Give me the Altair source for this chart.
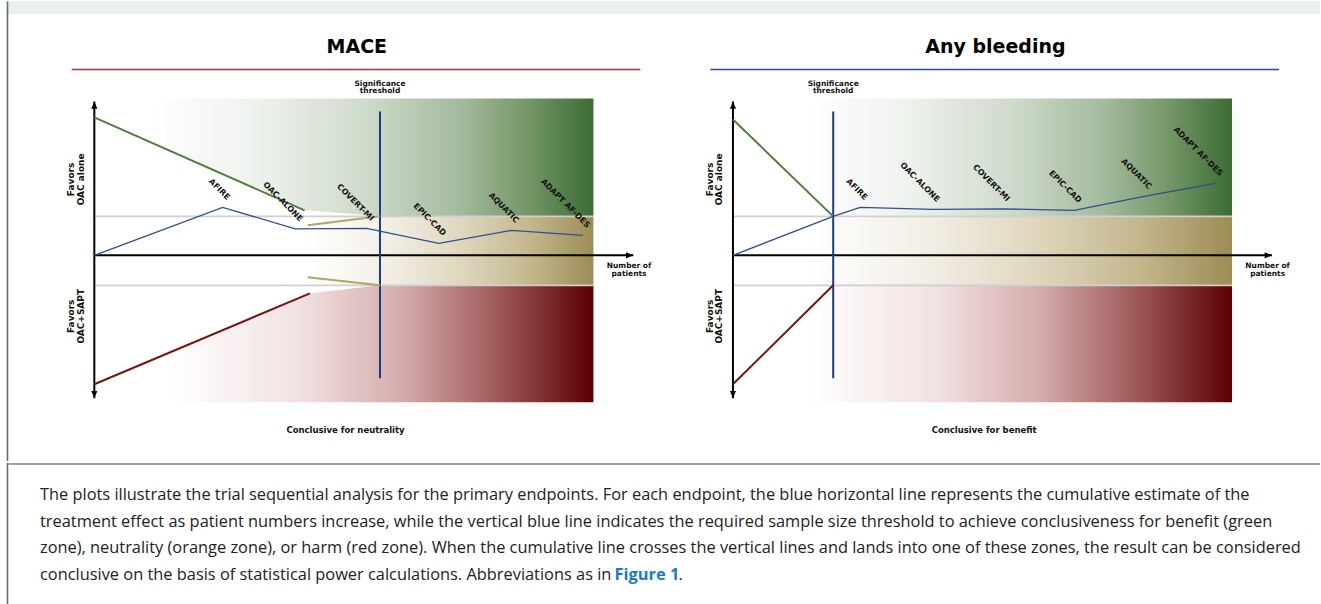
import altair as alt
import pandas as pd

# Trials in the order in which they enter the cumulative (sequential) analysis
TRIALS = ["AFIRE", "OAC-ALONE", "COVERT-MI", "EPIC-CAD", "AQUATIC", "ADAPT AF-DES"]

# n = accrued number of patients (arbitrary units, the axis runs 0..100)
# z = cumulative Z statistic (arbitrary units, > 0 favours OAC alone)

# ---- MACE ----
MACE_TRIAL_N = [23.8, 37.3, 50.5, 63.9, 77.4, 90.6]
MACE_TRIAL_Z = [4.8, 2.65, 2.7, 1.2, 2.5, 2.0]
MACE_PATH_N = [0.0] + MACE_TRIAL_N
MACE_PATH_Z = [0.0] + MACE_TRIAL_Z
MACE_RIS = 53.0                      # required information size
MACE_BENEFIT_N = [0.0, 39.0]
MACE_BENEFIT_Z = [13.8, 4.5]
MACE_HARM_N = [0.0, 40.0]
MACE_HARM_Z = [-12.9, -3.8]
MACE_FUTILITY_N = [39.6, 53.0]
MACE_FUTILITY_UPPER = [3.0, 3.9]
MACE_FUTILITY_LOWER = [-2.2, -3.0]
MACE_SHADE_START = {"benefit": 10.7, "neutral": 39.6, "harm": 14.2}

# ---- Any bleeding ----
BLEED_TRIAL_N = [23.6, 37.0, 50.0, 63.3, 76.3, 89.5]
BLEED_TRIAL_Z = [4.8, 4.6, 4.65, 4.5, 5.9, 7.2]
BLEED_RIS = 18.6
BLEED_PATH_N = [0.0, 18.6] + BLEED_TRIAL_N
BLEED_PATH_Z = [0.0, 3.9] + BLEED_TRIAL_Z
BLEED_BENEFIT_N = [0.0, 18.6]
BLEED_BENEFIT_Z = [13.6, 3.9]
BLEED_HARM_N = [0.0, 18.6]
BLEED_HARM_Z = [-12.9, -3.0]
BLEED_SHADE_START = {"benefit": 13.8, "neutral": 13.8, "harm": 13.8}

# ---- zone limits shared by both panels ----
ZONE_TOP, ZONE_BOTTOM = 15.7, -14.7
NEUTRAL_UPPER, NEUTRAL_LOWER = 3.9, -3.0
ZONE_END = 92.6
AXIS_N_END = 100.0
AXIS_Z_TOP, AXIS_Z_BOTTOM = 15.4, -14.3
RIS_TOP, RIS_BOTTOM = 14.4, -12.3

CAPTION_LINES = [
    "The plots illustrate the trial sequential analysis for the primary endpoints. For each endpoint, the blue horizontal line represents the cumulative estimate of the",
    "treatment effect as patient numbers increase, while the vertical blue line indicates the required sample size threshold to achieve conclusiveness for benefit (green",
    "zone), neutrality (orange zone), or harm (red zone). When the cumulative line crosses the vertical lines and lands into one of these zones, the result can be considered",
    "conclusive on the basis of statistical power calculations. Abbreviations as in",
]
CAPTION_LINK = "Figure 1"

# ---- styling ----
FONT = "DejaVu Sans"
CAPTION_FONT = "Open Sans"
CAPTION_SIZE = 16.4
BENEFIT_COLOR = "#4f7f3f"
HARM_COLOR = "#7a1212"
FUTILITY_COLOR = "#b3a467"
CUM_COLOR = "#2f4f8f"
RIS_COLOR = "#1d3a84"
GUIDE_GRAY = "#d0d0d0"

GREEN_RAMP = [(0, "#ffffff"), (0.25, "#edf1ec"), (0.5, "#cbd8c7"), (0.7, "#a3ba9c"), (0.85, "#759768"), (1, "#3c6b35")]
TAN_RAMP = [(0, "#ffffff"), (0.3, "#f1ede3"), (0.55, "#ded5bb"), (0.78, "#c3b78d"), (1, "#9c8c55")]
RED_RAMP = [(0, "#ffffff"), (0.3, "#f2e2e2"), (0.55, "#d4abab"), (0.78, "#9c5757"), (1, "#5c0000")]

PX_PER_N = 5.394
PX_PER_Z = 10.0
Z0_PX = 254.3
PANEL_H = 460

UP_ARROW = "M0,0L-0.5,1.2L0.5,1.2Z"
DOWN_ARROW = "M0,0L-0.5,-1.2L0.5,-1.2Z"
RIGHT_ARROW = "M0,0L-1.2,-0.5L-1.2,0.5Z"


def gradient(start_frac, ramp):
    stops = [alt.GradientStop(offset=0, color="#ffffff")]
    if start_frac > 0:
        stops.append(alt.GradientStop(offset=start_frac, color="#ffffff"))
    for f, c in ramp[1:]:
        stops.append(alt.GradientStop(offset=start_frac + f * (1 - start_frac), color=c))
    return alt.Gradient(gradient="linear", stops=stops, x1=0, x2=1, y1=0, y2=0)


def panel(title, rule_color, verdict, trial_n, trial_z, path_n, path_z, ris,
          benefit, harm, futility, shade, width, axis_px, border):
    xs = alt.Scale(domain=[-axis_px / PX_PER_N, (width - axis_px) / PX_PER_N], nice=False, zero=False)
    ys = alt.Scale(domain=[(Z0_PX - PANEL_H) / PX_PER_Z, Z0_PX / PX_PER_Z], nice=False, zero=False)

    def X(f):
        return alt.X(f, type="quantitative", scale=xs, axis=None)

    def Y(f):
        return alt.Y(f, type="quantitative", scale=ys, axis=None)

    layers = []

    # header band and frame
    layers.append(alt.Chart(pd.DataFrame({"k": [0]})).mark_rect(color="#e8f1f0").encode(
        x=alt.value(8 if border else 0), x2=alt.value(width), y=alt.value(0), y2=alt.value(13)))
    if border:
        layers.append(alt.Chart(pd.DataFrame({"k": [0]})).mark_rule(color="#6b6b6b", strokeWidth=1.6).encode(
            x=alt.value(7.5), y=alt.value(0), y2=alt.value(PANEL_H)))

    # benefit zone
    b_n, b_z = list(benefit[0]), list(benefit[1])
    if b_n[-1] != ris:
        b_n.append(ris); b_z.append(NEUTRAL_UPPER)
    b_n.append(ZONE_END); b_z.append(NEUTRAL_UPPER)
    green = pd.DataFrame({"n": b_n, "top": [ZONE_TOP] * len(b_n), "bottom": b_z})
    layers.append(alt.Chart(green).mark_area(
        color=gradient(shade["benefit"] / ZONE_END, GREEN_RAMP), opacity=1).encode(
        x=X("n"), y=Y("top"), y2="bottom"))

    # harm zone
    h_n, h_z = list(harm[0]), list(harm[1])
    if h_n[-1] != ris:
        h_n.append(ris); h_z.append(NEUTRAL_LOWER)
    h_n.append(ZONE_END); h_z.append(NEUTRAL_LOWER)
    red = pd.DataFrame({"n": h_n, "top": h_z, "bottom": [ZONE_BOTTOM] * len(h_n)})
    layers.append(alt.Chart(red).mark_area(
        color=gradient(shade["harm"] / ZONE_END, RED_RAMP), opacity=1).encode(
        x=X("n"), y=Y("top"), y2="bottom"))

    # neutrality zone
    tan = pd.DataFrame({"n": [shade["neutral"], ZONE_END], "top": [NEUTRAL_UPPER] * 2,
                        "bottom": [NEUTRAL_LOWER] * 2})
    layers.append(alt.Chart(tan).mark_area(color=gradient(0, TAN_RAMP), opacity=1).encode(
        x=X("n"), y=Y("top"), y2="bottom"))

    # grey guides at the neutrality limits
    guides = pd.DataFrame({"n": [0.0, 0.0], "n2": [ZONE_END] * 2, "z": [NEUTRAL_UPPER, NEUTRAL_LOWER]})
    layers.append(alt.Chart(guides).mark_rule(color=GUIDE_GRAY, strokeWidth=1.8).encode(
        x=X("n"), x2="n2", y=Y("z")))

    # axes with arrowheads
    layers.append(alt.Chart(pd.DataFrame({"n": [0.0], "n2": [AXIS_N_END], "z": [0.0]})).mark_rule(
        color="black", strokeWidth=2).encode(x=X("n"), x2="n2", y=Y("z")))
    layers.append(alt.Chart(pd.DataFrame({"n": [0.0], "z": [AXIS_Z_BOTTOM], "z2": [AXIS_Z_TOP]})).mark_rule(
        color="black", strokeWidth=2).encode(x=X("n"), y=Y("z"), y2="z2"))
    for shape, n, z in [(UP_ARROW, 0.0, AXIS_Z_TOP), (DOWN_ARROW, 0.0, AXIS_Z_BOTTOM),
                        (RIGHT_ARROW, AXIS_N_END, 0.0)]:
        layers.append(alt.Chart(pd.DataFrame({"n": [n], "z": [z]})).mark_point(
            shape=shape, filled=True, size=150, color="black", opacity=1, strokeWidth=0).encode(
            x=X("n"), y=Y("z")))

    # required-information-size threshold
    layers.append(alt.Chart(pd.DataFrame({"n": [ris], "z": [RIS_BOTTOM], "z2": [RIS_TOP]})).mark_rule(
        color=RIS_COLOR, strokeWidth=2).encode(x=X("n"), y=Y("z"), y2="z2"))

    # monitoring boundaries
    layers.append(alt.Chart(pd.DataFrame({"n": benefit[0], "z": benefit[1]})).mark_line(
        color=BENEFIT_COLOR, strokeWidth=2).encode(x=X("n"), y=Y("z")))
    layers.append(alt.Chart(pd.DataFrame({"n": harm[0], "z": harm[1]})).mark_line(
        color=HARM_COLOR, strokeWidth=2).encode(x=X("n"), y=Y("z")))
    if futility is not None:
        for zz in (futility[1], futility[2]):
            layers.append(alt.Chart(pd.DataFrame({"n": futility[0], "z": zz})).mark_line(
                color=FUTILITY_COLOR, strokeWidth=2).encode(x=X("n"), y=Y("z")))

    # cumulative Z curve
    layers.append(alt.Chart(pd.DataFrame({"n": path_n, "z": path_z})).mark_line(
        color=CUM_COLOR, strokeWidth=1.4).encode(x=X("n"), y=Y("z")))

    # trial labels
    tl = pd.DataFrame({"n": trial_n, "z": trial_z, "trial": TRIALS})
    layers.append(alt.Chart(tl).mark_text(
        angle=45, align="right", baseline="bottom", dx=-2, dy=-6, font=FONT,
        fontSize=8, fontWeight="bold", color="#111").encode(x=X("n"), y=Y("z"), text="trial"))

    # titles and annotations
    layers.append(alt.Chart(pd.DataFrame({"n": [48.7], "z": [20.8], "t": [title]})).mark_text(
        font=FONT, fontSize=19, fontWeight="bold", color="black", baseline="middle").encode(
        x=X("n"), y=Y("z"), text="t"))
    layers.append(alt.Chart(pd.DataFrame({"n": [-4.2], "n2": [101.3], "z": [18.6]})).mark_rule(
        color=rule_color, strokeWidth=1.3).encode(x=X("n"), x2="n2", y=Y("z")))
    layers.append(alt.Chart(pd.DataFrame({"n": [ris], "z": [16.7], "t": ["Significance\nthreshold"]})).mark_text(
        font=FONT, fontSize=7.5, fontWeight="bold", lineBreak="\n", lineHeight=6.5, baseline="bottom",
        color="#111").encode(x=X("n"), y=Y("z"), text="t"))
    layers.append(alt.Chart(pd.DataFrame({"n": [99.2], "z": [-0.65], "t": ["Number of\npatients"]})).mark_text(
        font=FONT, fontSize=7.5, fontWeight="bold", lineBreak="\n", lineHeight=8, baseline="top",
        color="#111").encode(x=X("n"), y=Y("z"), text="t"))
    side = pd.DataFrame({"n": [-4.3, -4.3], "z": [7.6, -6.1],
                         "t": ["Favors\nOAC alone", "Favors\nOAC+SAPT"]})
    layers.append(alt.Chart(side).mark_text(
        font=FONT, fontSize=9, fontWeight="bold", lineBreak="\n", lineHeight=9.5, angle=270,
        baseline="middle", align="center", color="#111").encode(x=X("n"), y=Y("z"), text="t"))
    layers.append(alt.Chart(pd.DataFrame({"n": [46.6], "z": [-17.5], "t": [verdict]})).mark_text(
        font=FONT, fontSize=8.5, fontWeight="bold", baseline="middle", color="#111").encode(
        x=X("n"), y=Y("z"), text="t"))

    return alt.layer(*layers).properties(width=width, height=PANEL_H)


left = panel("MACE", "#a33b3b", "Conclusive for neutrality",
             MACE_TRIAL_N, MACE_TRIAL_Z, MACE_PATH_N, MACE_PATH_Z, MACE_RIS,
             (MACE_BENEFIT_N, MACE_BENEFIT_Z), (MACE_HARM_N, MACE_HARM_Z),
             (MACE_FUTILITY_N, MACE_FUTILITY_UPPER, MACE_FUTILITY_LOWER),
             MACE_SHADE_START, 660, 94.4, True)

right = panel("Any bleeding", "#2d4d9a", "Conclusive for benefit",
              BLEED_TRIAL_N, BLEED_TRIAL_Z, BLEED_PATH_N, BLEED_PATH_Z, BLEED_RIS,
              (BLEED_BENEFIT_N, BLEED_BENEFIT_Z), (BLEED_HARM_N, BLEED_HARM_Z), None,
              BLEED_SHADE_START, 661, 73.5, False)

# caption block under the figure
CAP_H = 144
LINE_H = 26.7
one = pd.DataFrame({"k": [0]})
caption = alt.layer(
    alt.Chart(one).mark_rule(color="#6b6b6b", strokeWidth=1.6).encode(
        x=alt.value(7.5), y=alt.value(0), y2=alt.value(CAP_H)),
    alt.Chart(one).mark_rule(color="#a0a0a0", strokeWidth=2).encode(
        x=alt.value(8), x2=alt.value(1321), y=alt.value(1)),
    alt.Chart(pd.DataFrame({"t": ["\n".join(CAPTION_LINES)]})).mark_text(
        font=CAPTION_FONT, fontSize=CAPTION_SIZE, lineBreak="\n", lineHeight=LINE_H, align="left",
        baseline="alphabetic", color="#222222").encode(
        x=alt.value(40), y=alt.value(37), text="t"),
    alt.Chart(pd.DataFrame({"t": [CAPTION_LINK]})).mark_text(
        font=CAPTION_FONT, fontSize=CAPTION_SIZE, fontWeight="bold", align="left", baseline="alphabetic",
        color="#1a7bbf").encode(x=alt.value(615), y=alt.value(37 + 3 * LINE_H), text="t"),
    alt.Chart(pd.DataFrame({"t": ["."]})).mark_text(
        font=CAPTION_FONT, fontSize=CAPTION_SIZE, align="left", baseline="alphabetic", color="#222222").encode(
        x=alt.value(679), y=alt.value(37 + 3 * LINE_H), text="t"),
).properties(width=1321, height=CAP_H)

chart = alt.vconcat(
    alt.hconcat(left, right, spacing=0, bounds="flush"),
    caption,
    spacing=0,
).properties(padding=0, background="white").configure_view(stroke=None)

chart.save("out.html", embed_options={"renderer": "svg", "actions": False})
